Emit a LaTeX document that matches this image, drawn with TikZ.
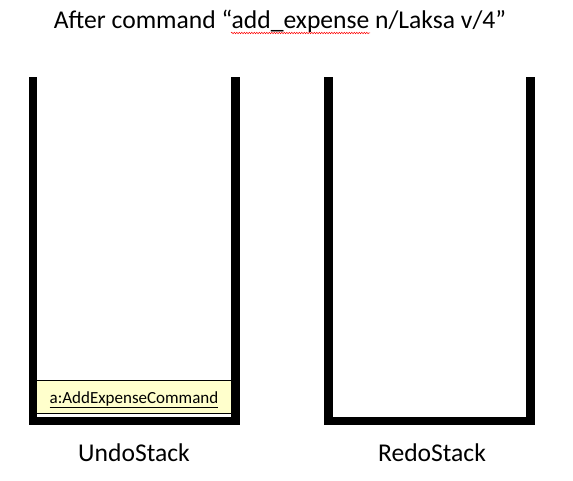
\documentclass[tikz,border=0pt]{standalone}
\usepackage{fontspec}
\setmainfont{Carlito}
\usetikzlibrary{decorations.pathmorphing}
\definecolor{boxyellow}{RGB}{255,255,204}
\tikzset{
  wall/.style={fill=black, draw=none},
  lbl/.style={font=\fontsize{25.6}{30}\selectfont, anchor=base, inner sep=0pt},
  objbox/.style={fill=boxyellow, draw=none},
  objtext/.style={font=\fontsize{17}{20}\selectfont, anchor=base, inner sep=0pt}
}
\begin{document}
\begin{tikzpicture}[x=1pt,y=-1pt]
\useasboundingbox (0,0) rectangle (573,481);
% title
\node[lbl] (title) at (280,29) {After command “add\_expense n/Laksa v/4”};
% undo stack
\fill[wall] (29,77) rectangle (37,425);
\fill[wall] (231,77) rectangle (240,425);
\fill[wall] (29,417) rectangle (240,425);
% redo stack
\fill[wall] (324,77) rectangle (333,425);
\fill[wall] (526,77) rectangle (535,425);
\fill[wall] (324,417) rectangle (535,425);
% object box
\fill[objbox] (37,380) rectangle (231,414);
\draw[line width=0.8pt] (37,380.4) -- (231,380.4);
\draw[line width=0.8pt] (37,413.4) -- (231,413.4);
\node[objtext] (obj) at (134,403) {\underline{a:AddExpenseCommand}};
% labels
\node[lbl] (undo) at (134,461) {UndoStack};
\node[lbl] (redo) at (432,461) {RedoStack};
% spellcheck squiggle
\draw[red, line width=0.5pt, decorate, decoration={snake, amplitude=0.7pt, segment length=2.5pt}] (231,33) -- (370,33);
\end{tikzpicture}
\end{document}
